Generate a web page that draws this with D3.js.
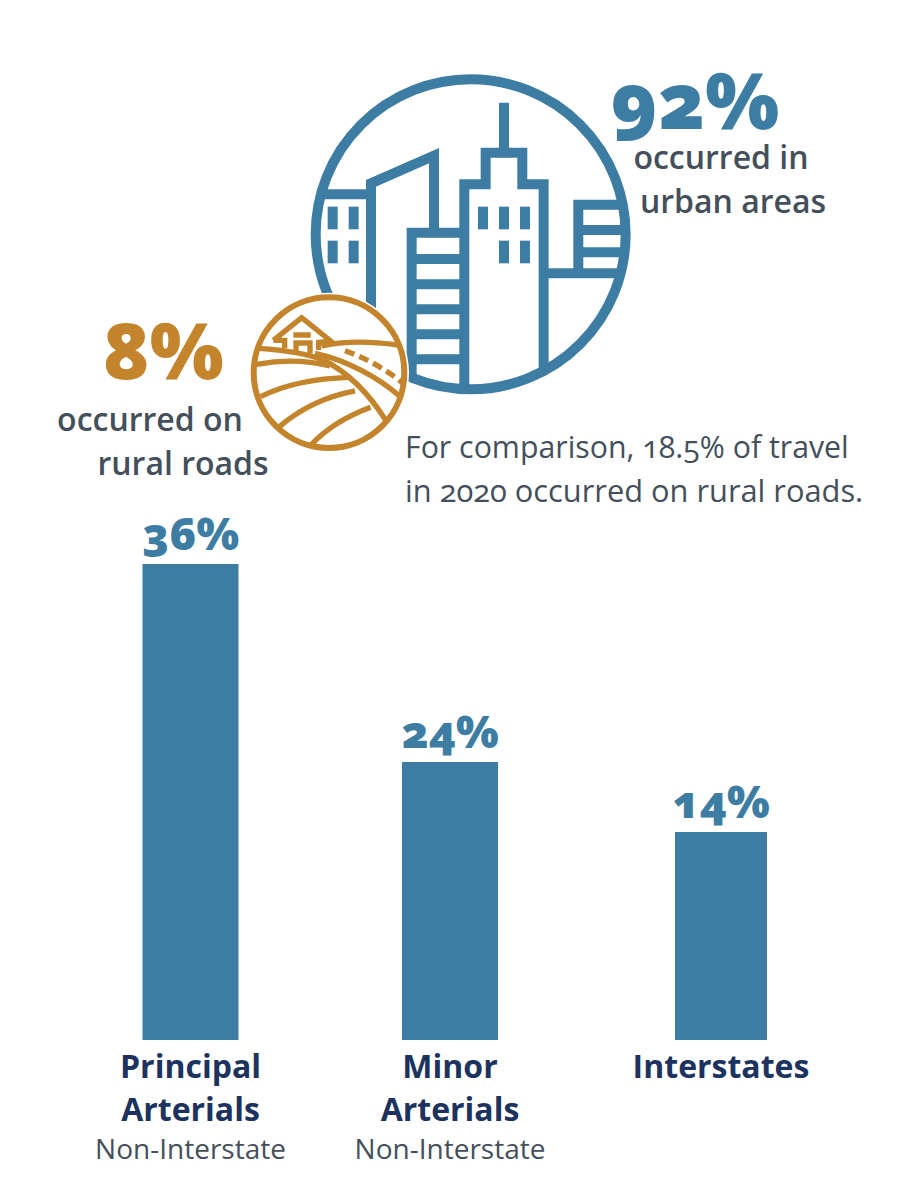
<!DOCTYPE html>
<html lang="en">

<head>
  <meta charset="UTF-8">
  <title>Road share of urban and rural travel</title>
  <script src="https://d3js.org/d3.v7.min.js"></script>
  <style>
    html, body { margin: 0; padding: 0; background: #fff; }
    svg { display: block; font-family: "Open Sans", sans-serif; font-feature-settings: "onum" 1; font-variant-numeric: oldstyle-nums; }
  </style>
</head>

<body>
  <div id="chart"></div>

  <script>
    // bar chart data
    var categories = ["Principal Arterials", "Minor Arterials", "Interstates"];
    var categoryLines = [["Principal", "Arterials"], ["Minor", "Arterials"], ["Interstates"]];
    var subLabels = ["Non-Interstate", "Non-Interstate", ""];
    var barValues = [36, 24, 14];

    // headline numbers
    var urbanShare = 92;
    var ruralShare = 8;

    var blue = "#3d7da3";
    var gold = "#c4842b";
    var slate = "#444f5c";
    var navy = "#1c3360";

    var svg = d3.select("#chart").append("svg")
      .attr("width", 900)
      .attr("height", 1200);

    // the picture does not draw its bars to one linear scale, so the y scale has one segment per value
    var y = d3.scaleLinear()
      .domain([0, 14, 24, 36])
      .range([1040, 832, 762, 564]);

    var barCentres = d3.scaleOrdinal().domain(categories).range([190.5, 450, 721]);
    var barWidths = d3.scaleOrdinal().domain(categories).range([96, 96, 92]);

    svg.selectAll("rect.bar")
      .data(categories)
      .enter()
      .append("rect")
      .attr("class", "bar")
      .attr("x", function(d) { return barCentres(d) - barWidths(d) / 2; })
      .attr("width", function(d) { return barWidths(d); })
      .attr("y", function(d, i) { return y(barValues[i]); })
      .attr("height", function(d, i) { return y(0) - y(barValues[i]); })
      .attr("fill", blue);

    // value labels
    svg.selectAll("text.value")
      .data(categories)
      .enter()
      .append("text")
      .attr("class", "value")
      .attr("x", function(d) { return barCentres(d); })
      .attr("y", function(d, i) { return y(barValues[i]) - 14; })
      .attr("text-anchor", "middle")
      .attr("font-weight", 800)
      .attr("font-size", 45)
      .attr("fill", blue)
      .text(function(d, i) { return barValues[i] + "%"; });

    // category labels
    categories.forEach(function(name, i) {
      categoryLines[i].forEach(function(line, j) {
        svg.append("text")
          .attr("x", barCentres(name))
          .attr("y", 1078 + j * 43)
          .attr("text-anchor", "middle")
          .attr("font-weight", 700)
          .attr("font-size", 32)
          .attr("fill", navy)
          .text(line);
      });
      if (subLabels[i]) {
        svg.append("text")
          .attr("x", barCentres(name))
          .attr("y", 1159)
          .attr("text-anchor", "middle")
          .attr("font-size", 28)
          .attr("fill", slate)
          .text(subLabels[i]);
      }
    });

    // city icon, drawn in its own 0-340 box
    var city = svg.append("g").attr("transform", "translate(300,60) scale(0.3333)");
    svg.append("clipPath").attr("id", "cityClip")
      .append("circle").attr("cx", 512).attr("cy", 523).attr("r", 465);

    var cityLines = city.append("g")
      .attr("clip-path", "url(#cityClip)")
      .attr("fill", "none")
      .attr("stroke", blue)
      .attr("stroke-width", 30);

    [
      "M40,403H213",
      "M213,780V370L402,287V518",
      "M335,980V518H493",
      "M335,597H493M335,673H493M335,748H493M335,823H493M335,898H493",
      "M493,1000V373H557V278H667V373H731V925",
      "M612,128V278",
      "M835,640V434H980",
      "M835,510H980M835,577H980M731,640H980"
    ].forEach(function(d) { cityLines.append("path").attr("d", d); });

    var windows = [[83, 440], [146, 440], [83, 542], [146, 542], [534, 440], [597, 440], [660, 440], [597, 542], [660, 542]];
    city.selectAll("rect.window")
      .data(windows)
      .enter()
      .append("rect")
      .attr("x", function(d) { return d[0]; })
      .attr("y", function(d) { return d[1]; })
      .attr("width", 30)
      .attr("height", 68)
      .attr("fill", blue);

    city.append("circle")
      .attr("cx", 512).attr("cy", 523).attr("r", 465)
      .attr("fill", "none")
      .attr("stroke", blue)
      .attr("stroke-width", 30);

    // rural icon, drawn in its own 0-540 box
    var farm = svg.append("g").attr("transform", "translate(240,285) scale(0.3333)");
    svg.append("clipPath").attr("id", "farmClip")
      .append("circle").attr("cx", 267).attr("cy", 263).attr("r", 226);

    farm.append("circle")
      .attr("cx", 267).attr("cy", 263).attr("r", 240)
      .attr("fill", "#fff");

    var farmLines = farm.append("g")
      .attr("clip-path", "url(#farmClip)")
      .attr("fill", "none")
      .attr("stroke", gold)
      .attr("stroke-width", 16);

    [
      "M100,166L185,98L272,168L236,172V195M100,166H134V190",
      "M160,150H212",
      "M160,174H210V205M168,174V200",
      "M55,190C130,195 200,205 250,225C330,265 390,330 440,410",
      "M245,183C320,165 400,170 475,180",
      "M225,205C320,225 420,280 480,335",
      "M50,238C120,225 200,225 270,243",
      "M62,335C140,295 230,280 330,277",
      "M118,425C190,365 260,335 345,318",
      "M215,478C270,420 330,390 392,367"
    ].forEach(function(d) { farmLines.append("path").attr("d", d); });

    farmLines.append("path")
      .attr("d", "M315,197C380,220 440,255 490,295")
      .attr("stroke-dasharray", "30 16");

    farm.append("circle")
      .attr("cx", 267).attr("cy", 263).attr("r", 226)
      .attr("fill", "none")
      .attr("stroke", gold)
      .attr("stroke-width", 18);

    // headlines
    svg.append("text")
      .attr("x", 695).attr("y", 129)
      .attr("text-anchor", "middle")
      .attr("font-weight", 800)
      .attr("font-size", 78)
      .attr("fill", blue)
      .text(urbanShare + "%");

    svg.append("text")
      .attr("x", 163).attr("y", 379)
      .attr("text-anchor", "middle")
      .attr("font-weight", 800)
      .attr("font-size", 78)
      .attr("fill", gold)
      .text(ruralShare + "%");

    function note(x, baseline, anchor, size, weight, text) {
      svg.append("text")
        .attr("x", x).attr("y", baseline)
        .attr("text-anchor", anchor)
        .attr("font-size", size)
        .attr("font-weight", weight)
        .attr("fill", slate)
        .text(text);
    }

    note(721, 169, "middle", 32, 600, "occurred in");
    note(733, 213, "middle", 32, 600, "urban areas");
    note(150, 431, "middle", 32, 600, "occurred on");
    note(183, 475, "middle", 32, 600, "rural roads");
    note(405, 458, "start", 30.3, 400, "For comparison, 18.5% of travel");
    note(405, 502, "start", 30.8, 400, "in 2020 occurred on rural roads.");
  </script>

</body>

</html>
